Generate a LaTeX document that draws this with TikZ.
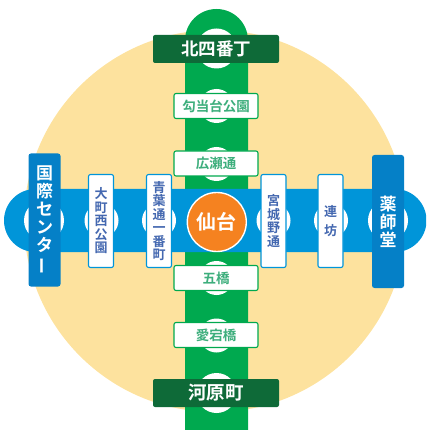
\documentclass[tikz,border=0pt]{standalone}
\usepackage{fontspec}
\setmainfont{Noto Sans CJK JP}[BoldFont={* Bold}]
\newfontfamily\cjk{Noto Sans CJK JP Bold}
\definecolor{sand}{HTML}{FDE29E}
\definecolor{lineg}{HTML}{00A94F}
\definecolor{lineb}{HTML}{0095D9}
\definecolor{darkg}{HTML}{0E6A38}
\definecolor{darkb}{HTML}{0580C7}
\definecolor{txtg}{HTML}{3DAE7C}
\definecolor{txtb}{HTML}{4468B0}
\definecolor{orng}{HTML}{F58220}
\tikzset{
  x=1pt,y=-1pt,
  hole/.style={circle,fill=white,inner sep=0,minimum size=34pt},
  bighole/.style={circle,fill=white,inner sep=0,minimum size=40pt},
  gstn/.style={draw=lineg,line width=1.1pt,fill=white,rounded corners=2pt,inner sep=0,minimum width=84pt,minimum height=25pt,text=txtg,font=\cjk\fontsize{13.5pt}{14pt}\selectfont},
  bstn/.style={draw=lineb,line width=1.1pt,fill=white,rounded corners=2pt,inner sep=0,minimum width=25pt,minimum height=93pt,text=txtb,align=center,font=\cjk\fontsize{13pt}{13.5pt}\selectfont},
  gterm/.style={fill=darkg,rounded corners=2pt,inner sep=0,minimum width=126pt,minimum height=28pt,text=white,font=\cjk\fontsize{17.5pt}{18pt}\selectfont},
  bterm/.style={fill=darkb,rounded corners=2.5pt,inner sep=0,minimum width=32pt,minimum height=133pt,text=white,align=center,font=\cjk\fontsize{17pt}{18pt}\selectfont},
}
\begin{document}
\begin{tikzpicture}
\useasboundingbox (0,0) rectangle (426,430);
\begin{scope}
\clip (0,0) rectangle (426,430);
\fill[sand] (215,221) circle[radius=191];
\fill[lineg,rounded corners=31.5pt] (185,9) rectangle (248,462);
\fill[lineb,rounded corners=31.5pt] (4,189) rectangle (426.5,252);
\end{scope}
\node[bighole] (h1) at (216.5,48.5) {};
\node[hole] (h2) at (216.5,106) {};
\node[hole] (h3) at (216.5,164) {};
\node[hole] (h4) at (216.5,278) {};
\node[hole] (h5) at (216.5,335.5) {};
\node[bighole] (h6) at (216.5,393) {};
\node[bighole] (h7) at (44,220.5) {};
\node[hole] (h8) at (101.5,220.5) {};
\node[hole] (h9) at (159,220.5) {};
\node[hole] (h10) at (273.5,220.5) {};
\node[hole] (h11) at (331,220.5) {};
\node[bighole] (h12) at (388,220.5) {};
\node[gterm] (kita) at (216,49) {北四番丁};
\node[gstn] (koto) at (216,106) {勾当台公園};
\node[gstn] (hiro) at (216,163.5) {広瀬通};
\node[gstn] (itsu) at (216,278) {五橋};
\node[gstn] (atago) at (216,335) {愛宕橋};
\node[gterm,font=\cjk\fontsize{18.5pt}{19pt}\selectfont] (kawa) at (216,393) {河原町};
\node[bterm] (koku) at (44.5,220) {国\\際\\セ\\ン\\タ\\\rotatebox[origin=c]{90}{ー}};
\node[bstn] (oma) at (101,221) {大\\町\\西\\公\\園};
\node[bstn] (aoba) at (159,221) {青\\葉\\通\\一\\番\\町};
\node[bstn] (miya) at (273.5,221) {宮\\城\\野\\通};
\node[bstn] (ren) at (330.5,221) {連\\[5pt]坊};
\node[bterm] (yaku) at (388,221.5) {薬\\師\\堂};
\node[circle,fill=orng,draw=white,line width=1.4pt,inner sep=0,minimum size=59pt,text=white,font=\cjk\fontsize{20pt}{21pt}\selectfont] (sendai) at (216.8,222) {仙台};
\end{tikzpicture}
\end{document}
